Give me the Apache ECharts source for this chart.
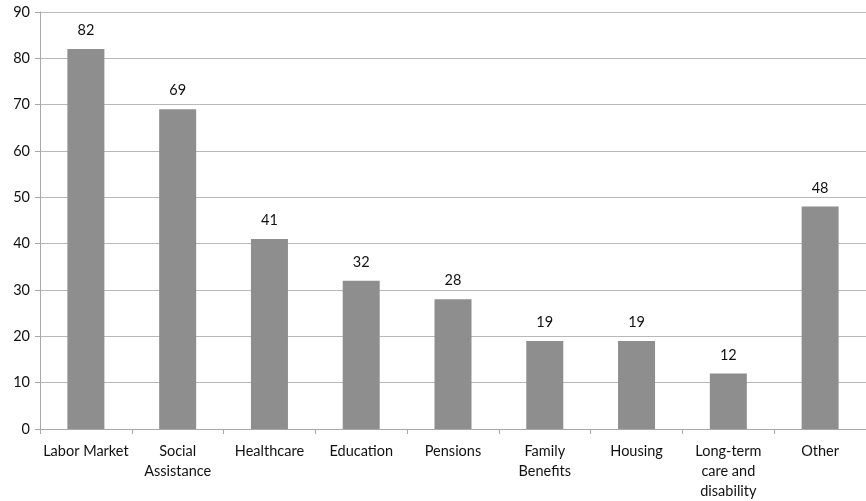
<!DOCTYPE html>
<html><head><meta charset="utf-8">
<script src="https://cdn.jsdelivr.net/npm/echarts@6/dist/echarts.min.js"></script>
<style>html,body{margin:0;padding:0;background:#fff}#c{width:866px;height:501px}</style>
</head><body><div id="c"></div>
<script>
var categories = ['Labor Market', 'Social\nAssistance', 'Healthcare', 'Education', 'Pensions', 'Family\nBenefits', 'Housing', 'Long-term\ncare and\ndisability', 'Other'];
var values = [82, 69, 41, 32, 28, 19, 19, 12, 48];
var yMin = 0, yMax = 90, yStep = 10;
var chart = echarts.init(document.getElementById('c'));
var font = 'Lato, "Open Sans", sans-serif';
chart.setOption({
  animation: false,
  grid: {left: 40, right: -6, top: 12, bottom: 71, containLabel: false},
  xAxis: {
    type: 'category', data: categories,
    axisLine: {lineStyle: {color: '#a8a8a8', width: 1}},
    axisTick: {show: true, length: 5, lineStyle: {color: '#a8a8a8'}},
    axisLabel: {color: '#111', fontSize: 14.5, fontFamily: font, margin: 12, lineHeight: 20, interval: 0}
  },
  yAxis: {
    type: 'value', min: yMin, max: yMax, interval: yStep,
    axisLine: {show: true, lineStyle: {color: '#a8a8a8'}},
    axisTick: {show: true, length: 5, lineStyle: {color: '#a8a8a8'}},
    splitLine: {lineStyle: {color: '#b8b8b8', width: 1}},
    axisLabel: {color: '#111', fontSize: 14.5, fontFamily: font, margin: 10}
  },
  series: [{
    type: 'bar', data: values, barWidth: 37,
    itemStyle: {color: '#8e8e8e'},
    label: {show: true, position: 'top', distance: 11, color: '#111', fontSize: 14.5, fontFamily: font}
  }]
});
</script></body></html>
